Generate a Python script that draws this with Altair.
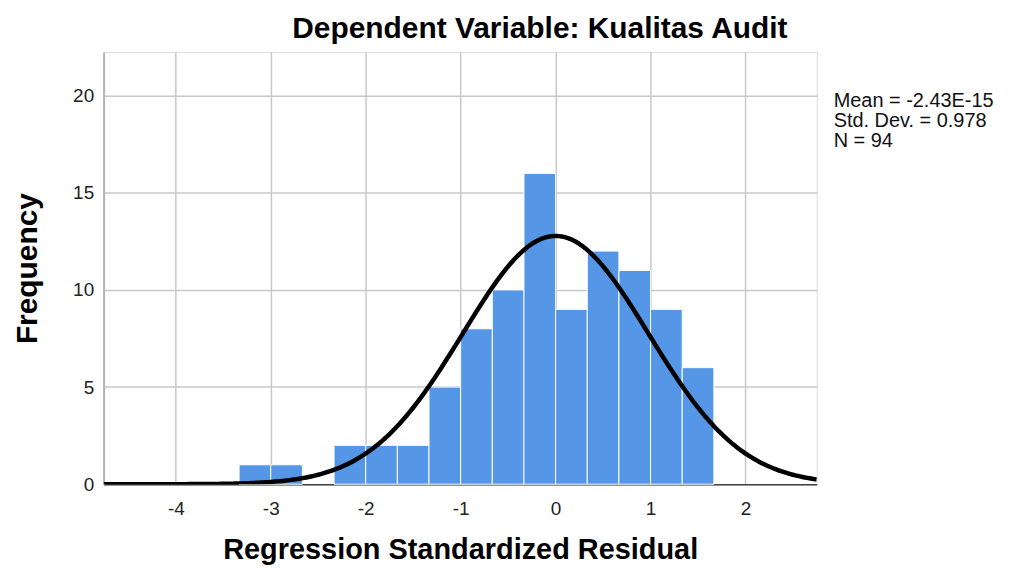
import altair as alt
import numpy as np
import pandas as pd

# Histogram bins (Regression Standardized Residual) and frequencies
bin_start = [-3.3333, -3.0, -2.6667, -2.3333, -2.0, -1.6667, -1.3333, -1.0,
             -0.6667, -0.3333, 0.0, 0.3333, 0.6667, 1.0, 1.3333]
bin_width = 0.3333
counts = [1, 1, 0, 2, 2, 2, 5, 8, 10, 16, 9, 12, 11, 9, 6]

# Summary statistics shown on the chart
mean_val = -2.43e-15
sd_val = 0.978
n_val = 94

x_domain = [-4.76, 2.75]
y_domain = [0, 22.25]
x_ticks = [-4, -3, -2, -1, 0, 1, 2]
y_ticks = [0, 5, 10, 15, 20]

bars = pd.DataFrame({
    "x0": bin_start,
    "x1": [b + bin_width for b in bin_start],
    "count": counts,
})
bars = bars[bars["count"] > 0]

# Fitted normal curve from the stated mean / std. dev. / N
xs = np.linspace(x_domain[0], x_domain[1], 300)
ys = n_val * bin_width / (sd_val * np.sqrt(2 * np.pi)) * np.exp(-0.5 * ((xs - mean_val) / sd_val) ** 2)
curve = pd.DataFrame({"x": xs, "y": ys})

FONT = "Liberation Sans"
W, H = 716, 434
LABEL_EXPR = "datum.value < 0 ? '-' + abs(datum.value) : '' + datum.value"

xscale = alt.Scale(domain=x_domain, nice=False, zero=False)
yscale = alt.Scale(domain=y_domain, nice=False)

bar_layer = alt.Chart(bars).mark_rect(color="#5596E6", stroke="white", strokeWidth=1).encode(
    x=alt.X("x0:Q", scale=xscale,
            axis=alt.Axis(values=x_ticks, title="Regression Standardized Residual",
                          labelExpr=LABEL_EXPR,
                          titleFont=FONT, titleFontSize=29, titleFontWeight="bold",
                          titleColor="#000000", titlePadding=18,
                          labelFont=FONT, labelFontSize=19, labelColor="#222222",
                          labelPadding=15, ticks=False,
                          domainColor="#444444", domainWidth=1.5,
                          grid=True, gridColor="#c8c8c8", gridWidth=1.5)),
    x2="x1:Q",
    y=alt.Y("count:Q", scale=yscale,
            axis=alt.Axis(values=y_ticks, title="Frequency",
                          labelExpr=LABEL_EXPR,
                          titleFont=FONT, titleFontSize=30, titleFontWeight="bold",
                          titleColor="#000000", titlePadding=30,
                          labelFont=FONT, labelFontSize=19, labelColor="#222222",
                          labelPadding=10, ticks=False,
                          domainColor="#b4b4b4", domainWidth=2,
                          grid=True, gridColor="#c8c8c8", gridWidth=1.5)),
    y2=alt.datum(0),
)

curve_layer = alt.Chart(curve).mark_line(color="black", strokeWidth=4.5, clip=True).encode(
    x=alt.X("x:Q", scale=xscale),
    y=alt.Y("y:Q", scale=yscale),
)

stats_text = f"Mean = -2.43E-15\nStd. Dev. = {sd_val}\nN = {n_val}"
stats_layer = alt.Chart(pd.DataFrame({"t": [stats_text]})).mark_text(
    align="left", baseline="top", font=FONT, fontSize=20, lineBreak="\n",
    lineHeight=20, color="#111111"
).encode(x=alt.value(733), y=alt.value(39), text="t:N")

chart = alt.layer(bar_layer, curve_layer, stats_layer).properties(
    width=W, height=H,
    title=alt.TitleParams("Dependent Variable: Kualitas Audit", font=FONT, fontSize=30,
                          fontWeight="bold", color="#000000", anchor="middle",
                          dx=80, offset=8),
    autosize=alt.AutoSizeParams(type="none"),
    padding={"left": 96, "top": 43, "right": 188, "bottom": 83},
).configure_view(stroke=None).configure(background="white")

chart.save("out.html", embed_options={"renderer": "svg", "actions": False})
